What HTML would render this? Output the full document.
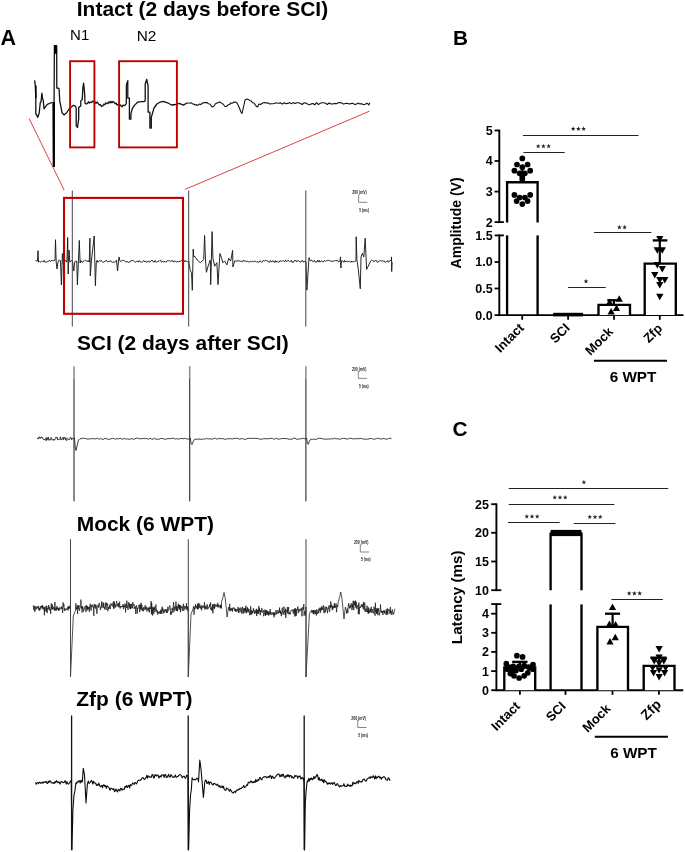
<!DOCTYPE html>
<html><head><meta charset="utf-8"><style>
html,body{margin:0;padding:0;background:#fff;}
svg{display:block;will-change:transform;}
svg text{font-family:"Liberation Sans",sans-serif;}
</style></head><body>
<svg width="685" height="852" viewBox="0 0 685 852">
<text x="76.8" y="15.8" font-size="20.95" font-weight="bold" text-anchor="start" fill="#000" >Intact (2 days before SCI)</text>
<text x="0.6" y="45" font-size="21.5" font-weight="bold" text-anchor="start" fill="#000" >A</text>
<text x="70.1" y="40.4" font-size="15" font-weight="normal" text-anchor="start" fill="#000" >N1</text>
<text x="136.7" y="41" font-size="15.4" font-weight="normal" text-anchor="start" fill="#000" >N2</text>
<text x="76.9" y="349.6" font-size="20.95" font-weight="bold" text-anchor="start" fill="#000" >SCI (2 days after SCI)</text>
<text x="76.7" y="530.7" font-size="20.95" font-weight="bold" text-anchor="start" fill="#000" >Mock (6 WPT)</text>
<text x="76.3" y="705.7" font-size="20.95" font-weight="bold" text-anchor="start" fill="#000" >Zfp (6 WPT)</text>
<path d="M34.6 80.3 L35.3 85.6 L35.8 98 L35.8 113.6 L37.7 117.3 L39.2 113 L40.3 102.5 L41.1 101.4 L41.9 93.2 L42.6 99 L43.2 100 L44 108.8 L45.8 106.2 L47.4 104.3 L51.7 102.5 L53.2 103 L53.7 166.5 L54.4 45.6 L56.7 45.6 L56.8 88 L59 88.3 L59.8 102 L60.4 103.8 L62 112.7 L64 114.9 L66.7 112.7 L69.4 108.5 L73.5 105.3 L75 105.8 L76.2 108 L76.2 125.7 L77.5 127.5 L78.7 118.7 L78.7 107.4 L80.8 106 L80.8 101 L82.2 99.6 L82.9 87.7 L83.6 83.1 L84.7 94 L85 103.2 L86.1 103.9 L87.3 103.6 L88.5 101.8 L89.5 103 L90.6 102.1 L91.6 102.4 L92.5 101.2 L93.5 101.4 L94.2 102.1 L95 102 L96 103.3 L97 102.1 L98 103 L99.2 105 L100.3 104.5 L101.5 106.3 L102.8 105.8 L104 104 L105 104.7 L106 102.9 L107 103.2 L108 103.6 L109 101.8 L110 102.9 L111 101.4 L112 102.8 L113 101.5 L114 102.2 L115 103.7 L116 103.1 L117 104.9 L118 104.5 L119 105.9 L120 104.6 L121 105.8 L122 106.8 L123 105.2 L124 105.5 L125.2 105.2 L126.3 103.5 L126.4 85 L127.8 80.7 L127.8 98 L129.4 98.1 L129.4 119.2 L130.9 119.2 L130.9 113.9 L132.3 108.7 L134.6 105.1 L137.6 102.2 L141.1 101.6 L144 101.6 L145.2 101 L145.2 84 L146.7 79.3 L148.1 86 L148.1 112.2 L149.9 112.2 L149.9 128 L151.3 128 L151.3 117.4 L154 108 L156.9 104 L159.9 102.2 L163.4 101.3 L167.5 102.8 L171.6 105 L175.7 104.5 L179.2 103.4 L183.3 105.1 L187.4 102.8" fill="none" stroke="#111" stroke-width="1.3" stroke-linejoin="round" />
<path d="M187.4 102.8 L188.7 103.2 L190 103 L191.2 102.7 L192.5 103.9 L193.8 104 L195 105 L196.5 104.6 L198 105.5 L199.3 104.1 L200.7 104.6 L202 103.5 L203.2 102.7 L204.5 102.6 L205.8 102.6 L207 102.5 L208.5 103.8 L210 104 L212 107 L214 106 L215.5 103.8 L217 103 L218.5 102.4 L220 102 L221.5 103.1 L223 104 L225 106.5 L226.5 106.4 L228 105 L229.5 104.5 L231 103 L232.5 103.1 L234 102 L235.5 102.1 L237 103 L239 107 L241 112 L242 113.5 L243.5 107 L245 100 L247 99 L248.5 99.6 L250 100.5 L251.3 101.1 L252.7 102.8 L254 103 L256 106 L257.5 107 L259 104 L260.5 104.5 L262 103.5 L263.3 102.8 L264.7 102.6 L266 103 L267.3 102.9 L268.7 103.2 L270 104 L271.3 103.8 L272.7 103.8 L274 103.5 L275.5 102.9 L277 103 L278.8 103.3 L280.6 102.9 L282.4 104.1 L284.2 102.7 L286 103.8 L287.8 103.4 L289.6 102.6 L291.4 103.7 L293.2 102.6 L295 103.5 L296.8 102.7 L298.6 102.7 L300.4 103.5 L302.2 104.5 L304 102.8 L305.8 103 L307.6 104 L309.4 104.8 L311.2 103.9 L313 103.5 L314.8 104.8 L316.6 102.6 L318.4 104.6 L320.2 103.2 L322 102.8 L323.8 102.8 L325.6 103.2 L327.4 104.5 L329.2 102.9 L331 103.9 L332.8 104 L334.6 103.4 L336.4 103.8 L338.2 102.7 L340 102.6 L341.8 103 L343.6 104.1 L345.4 103.5 L347.2 103.3 L349 103.9 L350.8 103.6 L352.6 103.2 L354.4 104.4 L356.2 104.2 L358 103.1 L359.8 103.9 L361.6 103.8 L363.4 104.6 L365.2 104.3 L367 103.2 L368.8 104.9 L369.8 102.8" fill="none" stroke="#111" stroke-width="1.1" stroke-linejoin="round" />
<line x1="53.8" y1="102" x2="53.8" y2="167" stroke="#000" stroke-width="2.3"/>
<rect x="54" y="45.3" width="2.9" height="8.5" fill="#000"/>
<rect x="35" y="85.6" width="1.6" height="12.5" fill="#000"/>
<rect x="70.1" y="61.2" width="24.3" height="86.2" fill="none" stroke="#c00000" stroke-width="1.9"/>
<rect x="119.1" y="61.2" width="57.8" height="86.2" fill="none" stroke="#c00000" stroke-width="1.9"/>
<line x1="29.1" y1="118.5" x2="64.1" y2="190" stroke="#d43030" stroke-width="0.9"/>
<line x1="369.5" y1="111.2" x2="185" y2="189.4" stroke="#d43030" stroke-width="0.9"/>
<path d="M35.5 260.2 L36.3 261.1 L37.1 261 L37.5 261 L38 250.7 L38.5 262 L39.3 261.4 L40.1 262.3 L40.9 261.7 L41.7 261.3 L42.5 261.6 L43.3 261.7 L44.1 260.3 L44.9 262.2 L45.7 261.9 L46.5 262.1 L47.3 262 L48.1 261.1 L48.9 261.1 L49.7 260.4 L50.5 261.6 L51.3 260.3 L52.1 260.3 L52.9 260.7 L53.7 260.6 L54.5 260.9 L55 260 L55.5 239.7 L56.2 262 L57 269 L58 262 L58.8 260.3 L59.6 260.2 L60.4 260.5 L60.5 262 L61.4 285 L62.4 253.6 L63.3 264 L64.1 260.4 L64.9 261 L65.7 260.3 L66.5 262.1 L67 260 L67.7 237.5 L68.2 274 L69 250 L69.8 262 L70.6 261.6 L71.4 260.5 L72.2 260.8 L72.2 261 L72.6 262 L73.8 271 L74.7 262 L75.5 261 L76.3 261 L76.8 262 L77.4 285 L79.3 240.4 L80.1 263 L80.9 260.5 L81.7 262.1 L82.5 262.4 L83.3 261.2 L84.1 261.3 L84.9 260.4 L85.7 260.4 L86.5 261 L87.3 260.8 L88.1 262 L88.9 260.6 L89.3 262 L89.9 238.2 L90.3 276 L91.3 262 L94.2 236 L95.4 285.7 L96.3 262 L97.1 260.3 L97.9 262.3 L98.7 261.4 L99.5 260.5 L100.3 261.4 L101.1 260.3 L101.9 261.4 L102.7 262.4 L103.5 262.1 L104.3 261.7 L105.1 260.8 L105.9 261 L106.7 260.6 L107.5 261.9 L108.3 261.4 L109.1 261.9 L109.9 260.9 L110.7 260.7 L111.5 262 L112.3 262.4 L113.1 262.1 L113.9 262 L114.7 262 L115.5 261.8 L116.3 260.7 L116.5 260 L117.5 271 L119 257 L119.9 261 L120.7 261.3 L121.5 261 L122.3 260.3 L123.1 260.3 L123.9 260.8 L124.7 260.8 L125.5 261.7 L126.3 262.3 L127.1 261.2 L127.9 262.3 L128.7 262.4 L129.5 262.3 L130.3 261 L131.1 260.7 L131.9 260.7 L132.7 260.6 L133.5 260.6 L134.3 261.6 L135.1 262.2 L135.9 262 L136.7 261.3 L137.5 261.6 L138.3 262 L139.1 260.4 L139.9 261.7 L140.7 262.2 L141.5 261.9 L142.3 261.9 L143.1 261.3 L143.9 260.6 L144.7 261.9 L145.5 260.9 L146.3 262 L147.1 262.3 L147.9 261.1 L148.7 261.1 L149.5 262.3 L150.3 261.8 L151.1 260.6 L151.9 260.5 L152.7 260.5 L153.5 262.2 L154.3 262 L155.1 260.5 L155.9 262 L156.7 262.4 L157.5 261.6 L158.3 261 L159.1 261.4 L159.9 260.5 L160.7 260.2 L161.5 262.3 L162.3 261.6 L163.1 261.4 L163.9 262.3 L164.7 261.2 L165.5 262.1 L166.3 262 L167.1 260.7 L167.9 260.8 L168.7 260.8 L169.5 260.7 L170.3 261.5 L171.1 260.8 L171.9 261.1 L172.7 260.5 L173.5 262.2 L174.3 261 L175.1 261.2 L175.9 261.5 L176.7 262.2 L177.5 261.1 L178.3 262.2 L179.1 261.3 L179.9 261.4 L180.7 261.4 L181.5 260.2 L182.3 261.2 L183.1 260.6 L183.9 260.2 L184.7 262 L185.5 260.6 L186.3 261.2 L187.1 261.8 L187.9 261.4 L188.7 261 L190.2 270.5 L191.5 272.7 L192.3 290.3 L193.2 249.1 L193.7 256.5 L195 256.5 L197.2 260 L200.2 262.7 L203.7 259.6 L204.6 235.5 L205.5 260 L206.4 272.3 L208.1 266.2 L210.3 260 L210.7 284.6 L212.1 231.6 L212.9 258 L214.7 266.2 L216.9 262.7 L218 284.6 L219.9 253.5 L221.7 258.3 L222.6 262.7 L224.7 261 L226.9 264.9 L228.7 258.3 L230.7 261 L232.6 250.4 L232.9 267 L234.7 261 L239.2 260.9 L240 260.9 L240.8 261.3 L241.6 261.4 L242.4 261.9 L243.2 260.4 L244 261.4 L244.8 260.7 L245.6 260.8 L246.4 261.9 L247.2 261.3 L248 261.4 L248.8 261.9 L249.6 262.2 L250.4 261.2 L251.2 261.5 L252 261.3 L252.8 261.3 L253.6 261.7 L254.4 261.2 L255.2 261.4 L256 261.3 L256.8 262.3 L257.6 261.7 L258.4 262.1 L259.2 262.3 L260 260.8 L260.8 261.4 L261.6 262.3 L262.4 262 L263.2 260.5 L264 260.5 L264.8 261.2 L265.6 260.4 L266.4 260.7 L267.2 260.4 L268 261.7 L268.8 261.9 L269.6 262.2 L270.4 260.5 L271.2 261.8 L272 261.7 L272.8 260.5 L273.6 262.1 L274.4 262.3 L275.2 260.7 L276 262.3 L276.8 261.1 L277.6 261.3 L278.4 262.4 L279.2 262 L280 260.6 L280.8 261.1 L281.6 261.3 L282.4 260.9 L283.2 260.6 L284 260.9 L284.8 261.8 L285.6 260.2 L286.4 261.4 L287.2 261.2 L288 260.2 L288.8 260.9 L289.6 261.6 L290.4 261.3 L291.2 260.3 L292 262.4 L292.8 261.9 L293.6 262.3 L294.4 260.4 L295.2 260.8 L296 260.3 L296.8 261.9 L297.6 260.8 L298.4 260.5 L299.2 261.1 L300 262.2 L300.8 262 L301.6 260.8 L302.4 260.5 L303.2 262.2 L304 261.5 L304.8 261.7 L305.5 261 L306 262 L306.9 290.2 L309 257.6 L310.4 261 L311.2 260.4 L312 260.3 L312.8 261.7 L313.6 261.1 L314.4 260.4 L315.2 262.3 L316 261.6 L316.8 262 L317.6 260.4 L318.4 262.1 L319.2 260.3 L320 262.1 L320.8 261.2 L321.6 260.9 L322.4 261.4 L323.2 262.2 L324 260.8 L324.8 260.5 L325.6 261.4 L326.4 260.7 L327.2 260.4 L328 260.6 L328.8 260.3 L329.6 260.6 L330.4 260.9 L331.2 260.9 L332 261.9 L332.8 260.8 L333.6 261.3 L334.4 260.6 L335.2 261 L336 260.2 L336.8 260.8 L337.6 260.2 L338.4 261.8 L339.2 261.4 L340 261 L340.5 256.9 L340.9 268 L341.4 261 L342.2 260.6 L343 261.2 L343.8 262.3 L344.6 260.4 L345.4 262 L346.2 261.2 L347 261.3 L347.8 262 L348.6 261.1 L349.4 261.3 L350.2 261.7 L351 262.4 L351.8 261 L352.6 262 L353.4 261.8 L354.2 261.6 L355 261.1 L355.8 261 L356 261 L356.2 236.8 L356.9 259.7 L358.3 269.4 L360.3 288.8 L361 256.9 L362.4 253.4 L363.8 256.9 L365.2 238.2 L366.6 269.4 L368 266.6 L370.7 261 L371.5 260.3 L372.3 260.5 L373.1 260.4 L373.9 261.8 L374.7 260.8 L375.5 260.6 L376.3 260.4 L377.1 262.1 L377.9 262.1 L378.7 261.7 L379.5 260.8 L380.3 260.7 L381.1 260.8 L381.9 261.2 L382.7 260.5 L383.5 261.2 L384.3 260.8 L385.1 262.3 L385.9 262.3 L386.7 261.4 L387.5 260.7 L388.3 262.3 L389.1 260.9 L389.9 261 L390.7 260.2 L391.3 261 L391.5 256.9 L391.7 271.5 L392.1 262" fill="none" stroke="#1a1a1a" stroke-width="0.95" stroke-linejoin="round" />
<line x1="72.3" y1="190.5" x2="72.3" y2="326.5" stroke="#454545" stroke-width="1.0"/>
<line x1="188.7" y1="190.5" x2="188.7" y2="326.5" stroke="#454545" stroke-width="1.0"/>
<line x1="305.8" y1="190.5" x2="305.8" y2="326.5" stroke="#454545" stroke-width="1.0"/>
<rect x="64" y="197.9" width="119" height="115.9" fill="none" stroke="#c00000" stroke-width="2.1"/>
<text x="352.2" y="194.4" font-size="4.8" font-weight="bold" fill="#222" textLength="14.6" lengthAdjust="spacingAndGlyphs">200 (mV)</text>
<line x1="358.6" y1="194.7" x2="358.6" y2="202.3" stroke="#606878" stroke-width="0.8"/>
<line x1="358.6" y1="202.3" x2="367.4" y2="202.3" stroke="#606878" stroke-width="0.8"/>
<text x="359.2" y="211.5" font-size="4.8" font-weight="bold" fill="#222" textLength="9.8" lengthAdjust="spacingAndGlyphs">5 (ms)</text>
<path d="M37 438.3 L37.5 438.7 L37.9 438.8 L38.4 437.6 L38.8 438.8 L39.3 436.8 L39.7 437.9 L40.2 437.2 L40.6 438.4 L41.1 437 L41.5 436.9 L42 438 L42.4 437.7 L42.9 439.1 L43.3 438.9 L43.8 439.8 L44.2 439.4 L44.7 439.7 L45.1 440.3 L45.6 438.4 L46 438.1 L46.5 440.7 L46.9 437.4 L47.4 439.7 L47.8 439.4 L48.3 437 L48.7 440.1 L49.2 440.4 L49.6 439.3 L50.1 439.7 L50.5 440 L51 437.4 L51.4 438.9 L51.9 438.8 L52.3 440.1 L52.8 440 L53.2 440.1 L53.7 439.1 L54.1 440.4 L54.6 439.5 L55 439.6 L55.5 437.7 L55.9 436.9 L56.4 437.3 L56.8 438.2 L57.3 437.2 L57.7 440.1 L58.2 439 L58.6 439.3 L59.1 439.3 L59.5 439.5 L60 438.8 L60.4 436.8 L60.9 440 L61.3 439.8 L61.8 438.8 L62.2 438.9 L62.7 439.4 L63.1 437.1 L63.6 439.7 L64 437.8 L64.5 437.1 L64.9 437.9 L65.4 439.7 L65.8 437.6 L66.3 439.8 L66.7 440.7 L67.2 438.8 L67.6 438.3 L68.1 438.7 L68.5 439.5 L69 439.9 L69.4 439.3 L69.9 439.4 L70.3 437.1 L70.8 437.4 L71.2 437.8 L71.7 439.8 L72.1 438 L73.5 438.8 L74.5 438 L75.2 447 L76 450.6 L77 446 L78.5 440 L80 438.5 L81 438.9 L82.5 438.2 L84 438.3 L85.5 438.5 L87 439 L88.5 439 L90 439 L91.5 438.5 L93 438.8 L94.5 438.8 L96 438.8 L97.5 438.3 L99 439.3 L100.5 438.4 L102 439.4 L103.5 439.3 L105 438.2 L106.5 438.8 L108 439.2 L109.5 439.4 L111 438.7 L112.5 438.5 L114 438.5 L115.5 439.3 L117 438.5 L118.5 438.9 L120 438.4 L121.5 438.8 L123 439.3 L124.5 438.4 L126 439.2 L127.5 438.8 L129 439.3 L130.5 439 L132 438.5 L133.5 439.3 L135 438.8 L136.5 438.2 L138 438.2 L139.5 438.8 L141 438.7 L142.5 438.6 L144 438.4 L145.5 438.6 L147 438.6 L148.5 439.2 L150 438.2 L151.5 439.1 L153 439.2 L154.5 438.3 L156 439.3 L157.5 439.1 L159 439.3 L160.5 438.5 L162 438.6 L163.5 438.7 L165 439.4 L166.5 438.9 L168 438.6 L169.5 438.7 L171 438.5 L172.5 438.3 L174 438.3 L175.5 439.2 L177 438.5 L178.5 439.3 L180 438.5 L181.5 438.5 L183 438.8 L184.5 438.4 L186 438.6 L187.5 439.3 L189.3 438.8 L190.3 438 L191 443 L192 444.5 L193.5 441 L195 439 L196 439.3 L197.5 439.2 L199 439 L200.5 439.3 L202 439.3 L203.5 438.9 L205 439.1 L206.5 438.3 L208 439.1 L209.5 438.7 L211 439.1 L212.5 439 L214 438.5 L215.5 438.3 L217 439.3 L218.5 438.4 L220 438.8 L221.5 438.6 L223 438.6 L224.5 439.1 L226 439.4 L227.5 438.5 L229 439 L230.5 438.6 L232 438.9 L233.5 438.7 L235 438.4 L236.5 438.4 L238 438.4 L239.5 439.3 L241 438.8 L242.5 438.5 L244 439.3 L245.5 439.4 L247 438.7 L248.5 438.4 L250 438.4 L251.5 438.3 L253 438.6 L254.5 438.3 L256 438.5 L257.5 438.5 L259 438.9 L260.5 439.3 L262 439.1 L263.5 438.7 L265 438.7 L266.5 438.8 L268 438.7 L269.5 438.6 L271 438.3 L272.5 438.5 L274 439.4 L275.5 438.4 L277 438.8 L278.5 439 L280 439.2 L281.5 438.5 L283 438.5 L284.5 438.5 L286 438.7 L287.5 438.7 L289 439.3 L290.5 439.2 L292 439.2 L293.5 438.2 L295 438.2 L296.5 439.1 L298 439.3 L299.5 438.8 L301 438.9 L302.5 438.2 L304 438.7 L305.6 438.8 L306.6 438 L307.3 443 L308.2 444.3 L309.5 441 L311 439 L312 439.3 L313.5 439.2 L315 439.2 L316.5 439.4 L318 438.5 L319.5 438.3 L321 438.4 L322.5 438.8 L324 439 L325.5 439.3 L327 439.1 L328.5 439 L330 439.1 L331.5 438.7 L333 438.9 L334.5 438.2 L336 439.1 L337.5 438.5 L339 439.3 L340.5 439 L342 438.6 L343.5 438.4 L345 438.5 L346.5 439 L348 439 L349.5 438.3 L351 438.3 L352.5 438.8 L354 438.9 L355.5 438.7 L357 438.5 L358.5 438.9 L360 438.2 L361.5 438.6 L363 438.8 L364.5 439.4 L366 439 L367.5 439.3 L369 438.8 L370.5 438.5 L372 438.5 L373.5 439.4 L375 439 L376.5 438.6 L378 438.2 L379.5 438.8 L381 439 L382.5 438.7 L384 438.5 L385.5 439 L387 439.3 L388.5 438.5 L390 438.2 L391.5 438.6" fill="none" stroke="#2a2a2a" stroke-width="0.9" stroke-linejoin="round" />
<line x1="74" y1="366.3" x2="74" y2="379" stroke="#8a8a8a" stroke-width="1.5"/>
<line x1="74" y1="379" x2="74" y2="501.3" stroke="#2a2a2a" stroke-width="1.1"/>
<line x1="189.7" y1="366.3" x2="189.7" y2="379" stroke="#8a8a8a" stroke-width="1.5"/>
<line x1="189.7" y1="379" x2="189.7" y2="501.3" stroke="#2a2a2a" stroke-width="1.1"/>
<line x1="305.9" y1="366.3" x2="305.9" y2="379" stroke="#8a8a8a" stroke-width="1.5"/>
<line x1="305.9" y1="379" x2="305.9" y2="501.3" stroke="#2a2a2a" stroke-width="1.1"/>
<text x="351.9" y="370.5" font-size="4.8" font-weight="bold" fill="#222" textLength="14.6" lengthAdjust="spacingAndGlyphs">200 (mV)</text>
<line x1="358.3" y1="370.8" x2="358.3" y2="378.4" stroke="#606878" stroke-width="0.8"/>
<line x1="358.3" y1="378.4" x2="367.1" y2="378.4" stroke="#606878" stroke-width="0.8"/>
<text x="358.9" y="387.6" font-size="4.8" font-weight="bold" fill="#222" textLength="9.8" lengthAdjust="spacingAndGlyphs">5 (ms)</text>
<path d="M33.3 605.4 L33.6 609.9 L33.9 608.1 L34.2 605.7 L34.5 606.7 L34.8 612 L35.1 608.4 L35.4 606.4 L35.7 608.9 L36 609.7 L36.3 609.4 L36.6 607.8 L36.9 606.4 L37.2 608 L37.5 607.8 L37.8 606.4 L38.1 608.9 L38.4 609.4 L38.7 606.3 L39 608.6 L39.3 610.6 L39.6 608 L39.9 610.2 L40.2 609.3 L40.5 608.3 L40.8 606 L41.1 608.5 L41.4 607.3 L41.7 605.8 L42 607.5 L42.3 605.1 L42.6 608.6 L42.9 606.4 L43.2 609.3 L43.5 609.5 L43.8 608.7 L44.1 606.8 L44.4 615.3 L44.7 607.1 L45 611.5 L45.3 608.8 L45.6 607.8 L45.9 607.5 L46.2 605.7 L46.5 611.5 L46.8 606 L47.1 613.1 L47.4 608.3 L47.7 609 L48 609.3 L48.3 608.7 L48.6 605.1 L48.9 609.2 L49.2 609.9 L49.5 606.8 L49.8 607.6 L50.1 610.8 L50.4 609.3 L50.7 613.9 L51 607.6 L51.3 603.5 L51.6 609.1 L51.9 608.6 L52.2 604.3 L52.5 607.7 L52.8 609.7 L53.1 606.7 L53.4 608.5 L53.7 609.2 L54 607.2 L54.3 608.1 L54.6 610.7 L54.9 602 L55.2 608.1 L55.5 609.8 L55.8 608.5 L56.1 610.9 L56.4 607.5 L56.7 609.6 L57 606.2 L57.3 609 L57.6 607.7 L57.9 608.4 L58.2 610.1 L58.5 607.9 L58.8 611 L59.1 610 L59.4 608.1 L59.7 607.4 L60 609.4 L60.3 608.9 L60.6 608.4 L60.9 607.4 L61.2 607.3 L61.5 606.5 L61.8 609 L62.1 606.9 L62.4 610.6 L62.7 612.9 L63 602.4 L63.3 603.9 L63.6 606.5 L63.9 604.2 L64.2 610.5 L64.5 610.8 L64.8 608.3 L65.1 610.6 L65.4 609.6 L65.7 609.1 L66 609.4 L66.3 610 L66.6 609.6 L66.9 608.4 L67.2 609.1 L67.5 607.3 L67.8 608.1 L68.1 610.5 L68.4 606.3 L68.7 608.3 L69 606.5 L69.3 608.7 L69.6 606.8 L69.9 605.8 L70.2 607.8 L70.5 602.5 L70.5 607 L70.5 677 L73.3 616 L75.5 610.4 L75.8 603.4 L76.1 606.1 L76.4 609.5 L76.7 606.9 L77 606.4 L77.3 606.2 L77.6 613.9 L77.9 605 L78.2 608.9 L78.5 608.7 L78.8 605.8 L79.1 605.2 L79.4 610.8 L79.7 609 L80 608.1 L80.3 607.7 L80.6 606.9 L80.9 599.6 L81.2 604.6 L81.5 608.3 L81.8 606.4 L82.1 612.5 L82.4 606.4 L82.7 608.5 L83 607.4 L83.3 610.2 L83.6 611.6 L83.9 609.3 L84.2 609.7 L84.5 607.4 L84.8 606.4 L85.1 606.5 L85.4 606.3 L85.7 608 L86 611.8 L86.3 605 L86.6 608.3 L86.9 607.5 L87.2 610.3 L87.5 606 L87.8 609.1 L88.1 607.1 L88.4 608.3 L88.7 609.3 L89 607 L89.3 611.8 L89.6 606.5 L89.9 607 L90.2 603.8 L90.5 605.8 L90.8 609 L91.1 610.6 L91.4 607 L91.7 605.1 L92 606.9 L92.3 604.6 L92.6 605.4 L92.9 606.5 L93.2 607.5 L93.5 606.8 L93.8 615.8 L94.1 604.6 L94.4 605.8 L94.7 607.3 L95 604 L95.3 607.9 L95.6 608.6 L95.9 605.1 L96.2 605.5 L96.5 608 L96.8 613.8 L97.1 611.4 L97.4 607.3 L97.7 607 L98 604.7 L98.3 607.1 L98.6 607.7 L98.9 605.6 L99.2 603 L99.5 604.8 L99.8 606.2 L100.1 606.7 L100.4 610.1 L100.7 607.2 L101 606.6 L101.3 606.6 L101.6 601.5 L101.9 608.2 L102.2 605.3 L102.5 604.3 L102.8 604.1 L103.1 602.4 L103.4 607.3 L103.7 603.2 L104 607.8 L104.3 607.1 L104.6 609.3 L104.9 606.6 L105.2 606.6 L105.5 602.6 L105.8 607.2 L106.1 610 L106.4 606.3 L106.7 602.8 L107 605.3 L107.3 605.4 L107.6 603.8 L107.9 611.1 L108.2 606.9 L108.5 608.9 L108.8 607.6 L109.1 608.3 L109.4 608.5 L109.7 604.7 L110 607 L110.3 609 L110.6 606.6 L110.9 603.4 L111.2 603.9 L111.5 605.4 L111.8 604.7 L112.1 604.5 L112.4 605.3 L112.7 606.5 L113 602.5 L113.3 603.2 L113.6 608.9 L113.9 601 L114.2 605.1 L114.5 602.5 L114.8 608.2 L115.1 604.5 L115.4 606.2 L115.7 607.1 L116 606.6 L116.3 603.3 L116.6 600.9 L116.9 602.7 L117.2 605.8 L117.5 605 L117.8 604.3 L118.1 606.8 L118.4 603.2 L118.7 605 L119 607.3 L119.3 604.9 L119.6 601.8 L119.9 607.4 L120.2 608.5 L120.5 606.2 L120.8 607.2 L121.1 606.9 L121.4 607 L121.7 606 L122 607.1 L122.3 606.1 L122.6 606.5 L122.9 604.2 L123.2 605.4 L123.5 609.1 L123.8 605.1 L124.1 607.4 L124.4 607 L124.7 605.6 L125 603.5 L125.3 607.1 L125.6 612.4 L125.9 604.6 L126.2 606.7 L126.5 607.8 L126.8 600.7 L127.1 603.6 L127.4 607.5 L127.7 606.8 L128 609.9 L128.3 605.1 L128.6 602.4 L128.9 604.7 L129.2 607.1 L129.5 603.3 L129.8 608.5 L130.1 606.7 L130.4 609.1 L130.7 604 L131 608.7 L131.3 604.8 L131.6 603.8 L131.9 607.6 L132.2 607 L132.5 608.2 L132.8 602.1 L133.1 604.8 L133.4 606 L133.7 604.7 L134 604.2 L134.3 608.9 L134.6 607 L134.9 607.6 L135.2 606.5 L135.5 609.3 L135.8 614 L136.1 605.5 L136.4 605.4 L136.7 607.1 L137 610 L137.3 613.5 L137.6 607.8 L137.9 608.8 L138.2 607.7 L138.5 605.9 L138.8 605.5 L139.1 606.2 L139.4 604.7 L139.7 612.1 L140 608.3 L140.3 604.7 L140.6 609.2 L140.9 606.1 L141.2 602.8 L141.5 609.9 L141.8 604.9 L142.1 607.6 L142.4 611 L142.7 609.8 L143 608 L143.3 611.3 L143.6 610.3 L143.9 606.9 L144.2 608.6 L144.5 609.2 L144.8 609.8 L145.1 605.3 L145.4 607.1 L145.7 609.5 L146 607.7 L146.3 606.6 L146.6 607.1 L146.9 611.6 L147.2 607.7 L147.5 607.9 L147.8 609.5 L148.1 608.9 L148.4 608.5 L148.7 610.7 L149 607.4 L149.3 612.4 L149.6 607.7 L149.9 606.8 L150.2 607.6 L150.5 608.9 L150.8 607.4 L151.1 601.1 L151.4 614.3 L151.7 603 L152 612.4 L152.3 607 L152.6 615.5 L152.9 610.5 L153.2 609.8 L153.5 607.8 L153.8 613.9 L154.1 606.5 L154.4 609.7 L154.7 607.8 L155 611.7 L155.3 611.4 L155.6 608.5 L155.9 604.5 L156.2 610.3 L156.5 609.6 L156.8 612.3 L157.1 612.4 L157.4 610.6 L157.7 614.6 L158 611.9 L158.3 613.2 L158.6 611.8 L158.9 612.8 L159.2 613.5 L159.5 611.5 L159.8 611.3 L160.1 612.5 L160.4 613.8 L160.7 609.8 L161 613.9 L161.3 610.8 L161.6 612.7 L161.9 607.9 L162.2 606.7 L162.5 611 L162.8 608.4 L163.1 613.7 L163.4 612 L163.7 609.9 L164 609.4 L164.3 612.6 L164.6 611.7 L164.9 610.1 L165.2 610.5 L165.5 611.3 L165.8 609.1 L166.1 609.8 L166.4 613 L166.7 612.1 L167 609.2 L167.3 612.4 L167.6 613 L167.9 606.8 L168.2 610.1 L168.5 610.5 L168.8 610.1 L169.1 608.7 L169.4 607.1 L169.7 605.4 L170 606.5 L170.3 607.6 L170.6 614.6 L170.9 612.6 L171.2 614.6 L171.5 611.7 L171.8 613 L172.1 607.9 L172.4 610 L172.7 608.9 L173 612.5 L173.3 605.8 L173.6 602.2 L173.9 608.5 L174.2 611.5 L174.5 608.1 L174.8 606.5 L175.1 609.2 L175.4 609.3 L175.7 605.7 L176 601.7 L176.3 611 L176.6 606.9 L176.9 610.1 L177.2 605.8 L177.5 611.3 L177.8 610.3 L178.1 608.8 L178.4 603.7 L178.7 607.7 L179 606.5 L179.3 608.7 L179.6 604.8 L179.9 609.9 L180.2 605 L180.5 612.2 L180.8 605.8 L181.1 607.3 L181.4 607.8 L181.7 607.9 L182 606.5 L182.3 611 L182.6 608.4 L182.9 605.9 L183.2 605.6 L183.5 603.8 L183.8 610.7 L184.1 605.8 L184.4 607.3 L184.7 608.2 L185 609.4 L185.3 607.5 L185.6 607.6 L185.9 606.1 L186.2 608.3 L186.5 603.2 L186.8 609.7 L187.1 606.5 L187.4 607 L187.7 608.2 L188 611.1 L188.3 607 L188.3 677 L191 614 L193.1 609 L193.4 607 L193.7 606.1 L194 614.7 L194.3 612.4 L194.6 607.3 L194.9 609 L195.2 607.7 L195.5 604.2 L195.8 607.8 L196.1 608.1 L196.4 605.8 L196.7 606.5 L197 606.3 L197.3 609.3 L197.6 604 L197.9 609.1 L198.2 602.9 L198.5 608.6 L198.8 608 L199.1 606.8 L199.4 607.5 L199.7 603.7 L200 607.1 L200.3 607.7 L200.6 606.7 L200.9 608.8 L201.2 605.5 L201.5 610.4 L201.8 609.1 L202.1 605.7 L202.4 607.2 L202.7 607.7 L203 607.7 L203.3 605.5 L203.6 605.8 L203.9 607.2 L204.2 608.2 L204.5 602.1 L204.8 609.6 L205.1 609.4 L205.4 606.7 L205.7 608.4 L206 605.7 L206.3 607.4 L206.6 608.7 L206.9 609.2 L207.2 604.3 L207.5 606.5 L207.8 609.3 L208.1 608.6 L208.4 607.4 L208.7 607.6 L209 606.8 L209.3 607.3 L209.6 604.6 L209.9 606.4 L210.2 605.3 L210.5 602.4 L210.8 609.5 L211.1 607.7 L211.4 610 L211.7 607.5 L212 610.7 L212.3 604.2 L212.6 606.1 L212.9 613.3 L213.2 607.3 L213.5 604.4 L213.8 607.8 L214.1 606.8 L214.4 609.1 L214.7 603.8 L215 607.3 L215.3 604.7 L215.6 605.2 L215.9 605.8 L216.2 605.7 L216.5 606.5 L216.8 604.5 L217.1 604.8 L217.4 607.1 L217.7 602.8 L218 603.5 L218.3 606.1 L218.6 605 L218.9 607.7 L219.2 606.1 L219.5 605.9 L219.8 605.4 L220.1 606.7 L220.4 605.7 L220.7 608.3 L221 604.5 L221.3 608.4 L221.5 602 L223 597 L224 592.5 L225.2 598 L227.1 617 L228.5 607 L228.8 608.2 L229.1 610.2 L229.4 610 L229.7 603.9 L230 611.1 L230.3 609.5 L230.6 608.7 L230.9 611 L231.2 607.9 L231.5 608.6 L231.8 610 L232.1 609 L232.4 611.8 L232.7 607.7 L233 609.4 L233.3 608.6 L233.6 608.3 L233.9 607.5 L234.2 607.9 L234.5 608 L234.8 610.9 L235.1 608.7 L235.4 611.4 L235.7 611.3 L236 609 L236.3 611.8 L236.6 610.2 L236.9 610.2 L237.2 609.1 L237.5 611.1 L237.8 611.1 L238.1 607 L238.4 610.7 L238.7 612.9 L239 607.8 L239.3 608.1 L239.6 610.2 L239.9 612.4 L240.2 611.9 L240.5 610 L240.8 607.5 L241.1 609 L241.4 608.9 L241.7 613.6 L242 611.7 L242.3 608.4 L242.6 606.8 L242.9 611.5 L243.2 613.7 L243.5 609.3 L243.8 608.3 L244.1 612.9 L244.4 611.5 L244.7 608 L245 610.6 L245.3 607.9 L245.6 611.5 L245.9 605.7 L246.2 613.3 L246.5 609.9 L246.8 612.7 L247.1 608.5 L247.4 607.3 L247.7 611.6 L248 608.7 L248.3 610.1 L248.6 612.3 L248.9 608.8 L249.2 610.5 L249.5 612.1 L249.8 615.2 L250.1 613.6 L250.4 614 L250.7 606.3 L251 614.9 L251.3 611 L251.6 610 L251.9 614 L252.2 610.9 L252.5 613 L252.8 612.1 L253.1 611.4 L253.4 608.2 L253.7 611.4 L254 612.3 L254.3 613.6 L254.6 613.8 L254.9 609.8 L255.2 613.3 L255.5 612.7 L255.8 611.1 L256.1 612.9 L256.4 608.8 L256.7 616 L257 609.9 L257.3 609.8 L257.6 613.5 L257.9 610.4 L258.2 614.1 L258.5 613.6 L258.8 606.1 L259.1 611.6 L259.4 608.1 L259.7 612.2 L260 611.7 L260.3 615.2 L260.6 610 L260.9 611.1 L261.2 612.2 L261.5 611.1 L261.8 608.1 L262.1 611.6 L262.4 612.6 L262.7 612.4 L263 611.9 L263.3 610.3 L263.6 616.2 L263.9 615.2 L264.2 614.9 L264.5 613.1 L264.8 609.6 L265.1 610.1 L265.4 615.8 L265.7 610.2 L266 615.1 L266.3 612 L266.6 610 L266.9 614.9 L267.2 614.5 L267.5 611 L267.8 613.7 L268.1 614.6 L268.4 612.1 L268.7 615.6 L269 611.2 L269.3 614.4 L269.6 613.9 L269.9 611.2 L270.2 609 L270.5 614.5 L270.8 612.7 L271.1 612 L271.4 614.5 L271.7 614.5 L272 613.9 L272.3 614.5 L272.6 614.2 L272.9 612.3 L273.2 613 L273.5 615 L273.8 612.3 L274.1 617.3 L274.4 612.6 L274.7 615.5 L275 614.4 L275.3 614.3 L275.6 612.7 L275.9 610.3 L276.2 611.6 L276.5 614.4 L276.8 613.5 L277.1 610.7 L277.4 610.3 L277.7 611.4 L278 613.9 L278.3 612.9 L278.6 611.8 L278.9 610.4 L279.2 612.8 L279.5 607.6 L279.8 611.9 L280.1 612.5 L280.4 610.6 L280.7 613.8 L281 611.9 L281.3 616.1 L281.6 612.3 L281.9 612.8 L282.2 607.7 L282.5 611.1 L282.8 613.7 L283.1 614.7 L283.4 614.3 L283.7 610.6 L284 606.6 L284.3 610.9 L284.6 612.5 L284.9 611.1 L285.2 615.1 L285.5 608.8 L285.8 617.9 L286.1 610.9 L286.4 611.4 L286.7 610.4 L287 611.2 L287.3 607.1 L287.6 613.4 L287.9 610.4 L288.2 610.9 L288.5 607 L288.8 614.3 L289.1 612.2 L289.4 612.1 L289.7 613.6 L290 613 L290.3 614.3 L290.6 612.2 L290.9 610.6 L291.2 610.1 L291.5 609.9 L291.8 610.3 L292.1 611.2 L292.4 610.4 L292.7 609.6 L293 610.9 L293.3 613.8 L293.6 613.7 L293.9 609.4 L294.2 611.8 L294.5 608.6 L294.8 616.5 L295.1 610.7 L295.4 608.4 L295.7 615.7 L296 608.8 L296.3 615.6 L296.6 610.3 L296.9 609.4 L297.2 609.3 L297.5 609.8 L297.8 606.5 L298.1 612.7 L298.4 613.1 L298.7 608.9 L299 610.4 L299.3 610.5 L299.6 609.6 L299.9 611.4 L300.2 611.2 L300.5 609.4 L300.8 609.8 L301.1 607.9 L301.4 609 L301.7 611.7 L302 616.3 L302.3 608.4 L302.6 607.2 L302.9 609.8 L303.2 608.9 L303.5 609.2 L303.8 604.2 L304.1 615.7 L304.4 612.9 L304.7 611.6 L305 612.8 L305.3 610.9 L305.6 615.5 L305.9 610.5 L306 607 L306 677 L309.4 613.8 L311.6 610 L311.9 612.9 L312.2 613.1 L312.5 610.6 L312.8 611.8 L313.1 610.3 L313.4 613.8 L313.7 610.1 L314 614.3 L314.3 612.1 L314.6 610.4 L314.9 610.4 L315.2 613.2 L315.5 613.9 L315.8 610 L316.1 612.6 L316.4 615.5 L316.7 609.4 L317 610.4 L317.3 611.8 L317.6 614 L317.9 613 L318.2 611.2 L318.5 613 L318.8 608.6 L319.1 610.8 L319.4 609.6 L319.7 609.9 L320 607.6 L320.3 612.9 L320.6 608.1 L320.9 608.1 L321.2 610.5 L321.5 606.6 L321.8 606.4 L322.1 609.2 L322.4 607.7 L322.7 609.1 L323 610.2 L323.3 605.3 L323.6 610.2 L323.9 612.9 L324.2 613.2 L324.5 609.8 L324.8 610.4 L325.1 606.5 L325.4 612.3 L325.7 610.8 L326 609.1 L326.3 606.9 L326.6 608.5 L326.9 607.5 L327.2 610.2 L327.5 613.2 L327.8 609.4 L328.1 608.1 L328.4 607.8 L328.7 608.8 L329 605.5 L329.3 610.9 L329.6 611.9 L329.9 609.2 L330.2 605.1 L330.5 607.6 L330.8 601.5 L331.1 606.7 L331.4 607.3 L331.7 604.8 L332 604.8 L332.3 610.2 L332.6 606.1 L332.9 609.3 L333.2 605.9 L333.5 606.1 L333.8 607.5 L334.1 607.8 L334.4 603 L334.7 607.9 L335 605.3 L335.3 606.2 L335.6 607.6 L335.9 603.6 L336.2 603.4 L336.5 612.2 L336.8 608.6 L337.1 605 L337.4 605.4 L337.7 606.8 L338 605.4 L338.2 602 L339.7 597 L340.7 592 L341.9 598 L344 619 L345.4 607 L345.7 608.9 L346 609.6 L346.3 610.1 L346.6 613.5 L346.9 611.3 L347.2 608.6 L347.5 609 L347.8 613.1 L348.1 607.5 L348.4 605.1 L348.7 603.3 L349 607.6 L349.3 608.4 L349.6 608.5 L349.9 605.2 L350.2 608.1 L350.5 605.6 L350.8 605.8 L351.1 603.3 L351.4 604.5 L351.7 607.6 L352 610.2 L352.3 604.1 L352.6 607.6 L352.9 604.8 L353.2 600.8 L353.5 607.9 L353.8 610 L354.1 600.9 L354.4 604.8 L354.7 602.5 L355 603.4 L355.3 605.5 L355.6 600.6 L355.9 607.9 L356.2 602.1 L356.5 607.4 L356.8 608.9 L357.1 607.8 L357.4 605.8 L357.7 605.2 L358 604.8 L358.3 614 L358.6 607.5 L358.9 602.6 L359.2 614.4 L359.5 607.7 L359.8 606.9 L360.1 606.6 L360.4 608 L360.7 607.3 L361 606.3 L361.3 604.5 L361.6 606.7 L361.9 605.9 L362.2 606.4 L362.5 606.8 L362.8 604.1 L363.1 608.7 L363.4 601.9 L363.7 602.8 L364 610.1 L364.3 610.3 L364.6 602.6 L364.9 603.3 L365.2 612 L365.5 610.4 L365.8 610.5 L366.1 608.5 L366.4 611.7 L366.7 611.8 L367 605.7 L367.3 606.9 L367.6 611.8 L367.9 610.2 L368.2 613.9 L368.5 607.5 L368.8 613.1 L369.1 609.7 L369.4 612 L369.7 612.5 L370 608.6 L370.3 609.6 L370.6 612.2 L370.9 610.1 L371.2 606.8 L371.5 610.7 L371.8 612.9 L372.1 611.4 L372.4 609 L372.7 610 L373 612.4 L373.3 612.3 L373.6 613.5 L373.9 606.7 L374.2 608.6 L374.5 608.4 L374.8 613.9 L375.1 615.7 L375.4 602.7 L375.7 612 L376 610.4 L376.3 608.8 L376.6 614 L376.9 608.3 L377.2 612.7 L377.5 608.7 L377.8 615.1 L378.1 610.8 L378.4 610.8 L378.7 608.1 L379 612.2 L379.3 615.4 L379.6 614.6 L379.9 612.7 L380.2 611.2 L380.5 604.5 L380.8 609.2 L381.1 612 L381.4 610.9 L381.7 612.7 L382 610.9 L382.3 612.9 L382.6 611.4 L382.9 614.9 L383.2 612.4 L383.5 610.9 L383.8 611.8 L384.1 610.1 L384.4 613.2 L384.7 611 L385 613.5 L385.3 613.4 L385.6 614.3 L385.9 613.8 L386.2 609.4 L386.5 614.7 L386.8 611.1 L387.1 612.8 L387.4 608.4 L387.7 614.7 L388 612.1 L388.3 610.4 L388.6 609.2 L388.9 609.1 L389.2 610.2 L389.5 609.8 L389.8 613.7 L390.1 612.5 L390.4 607.1 L390.7 613.1 L391 611.1 L391.3 614.9 L391.6 613.1 L391.9 611.6 L392.2 609.7 L392.5 609.7 L392.8 613.8 L393.1 614.8 L393.4 612.9 L393.7 612.5 L394 613.3 L394.3 610.8 L394.6 610.3 L394.9 608.7" fill="none" stroke="#1a1a1a" stroke-width="0.75" stroke-linejoin="round" />
<line x1="70.5" y1="539.3" x2="70.5" y2="677" stroke="#444" stroke-width="1.0"/>
<line x1="188.3" y1="539.3" x2="188.3" y2="677" stroke="#444" stroke-width="1.0"/>
<line x1="306" y1="539.3" x2="306" y2="677" stroke="#444" stroke-width="1.0"/>
<text x="353.9" y="544.1" font-size="4.8" font-weight="bold" fill="#222" textLength="14.6" lengthAdjust="spacingAndGlyphs">200 (mV)</text>
<line x1="360.3" y1="544.4" x2="360.3" y2="552" stroke="#606878" stroke-width="0.8"/>
<line x1="360.3" y1="552" x2="369.1" y2="552" stroke="#606878" stroke-width="0.8"/>
<text x="360.9" y="561.2" font-size="4.8" font-weight="bold" fill="#222" textLength="9.8" lengthAdjust="spacingAndGlyphs">5 (ms)</text>
<path d="M35.5 782.5 L36.2 784.3 L37 782.7 L37.8 782.6 L38.5 783.7 L39.2 782.4 L40 782.3 L40.8 783.4 L41.5 782.9 L42.2 782 L43 783.3 L43.8 781.9 L44.5 781.9 L45.2 782.5 L46 781.2 L46.8 783.1 L47.5 783.5 L48.2 781.3 L49 782.6 L49.8 780.6 L50.5 781.1 L51.2 782.5 L52 783.1 L52.8 783 L53.5 782.6 L54.2 783.6 L55 781.6 L55.8 782.7 L56.5 780.6 L57.2 781.6 L58 782.8 L58.8 781.8 L59.5 782.7 L60.2 784.1 L61 781.6 L61.8 781.6 L62.5 782.3 L63.2 782.6 L64 782.5 L64.8 780.9 L65.5 781.1 L66.2 784.2 L67 781.7 L67.8 783.6 L68.5 784.1 L69.2 783.3 L70 782 L70.8 780.7 L71.3 783 L71.9 850 L72.9 810 L74 795 L75 790.4 L75.8 783 L76.5 783.7 L77.2 781.6 L78 782.2 L78.8 780.8 L79.5 780.7 L80.2 783 L81 780.2 L81.8 782 L82.3 782 L83.3 768.3 L84.5 775 L86 803 L87.3 785 L88.3 781 L89 783.2 L89.8 782.9 L90.5 782.2 L91.3 780.4 L92 781.2 L92.8 784 L93.5 781.3 L94.3 782.9 L95 782.9 L95.8 783.3 L96.5 785.5 L97.3 784.6 L98 785.5 L98.8 783.1 L99.5 785.1 L100.3 786.8 L101 786.1 L101.8 785.4 L102.5 787.8 L103.3 785 L104 784.8 L104.8 786.4 L105.5 785.6 L106.3 788.3 L107 785.7 L107.8 786.8 L108.5 787 L109.3 788.5 L110 790.3 L110.8 788.1 L111.5 788.6 L112.3 789 L113 789.6 L113.8 788.5 L114.5 791.6 L115.3 790.8 L116 789 L116.8 790.9 L117.5 791.9 L118.3 789.3 L119 789.9 L119.8 791 L120.5 788.4 L121.3 788.6 L122 790.3 L122.8 788.9 L123.5 789.3 L124.3 789.4 L125 786.5 L125.8 787.2 L126.5 785.6 L127.3 787.5 L128.1 786 L128.8 785.3 L129.6 788 L130.3 784.6 L131.1 785.6 L131.8 785.1 L132.6 783 L133.3 783.7 L134.1 784.4 L134.8 782.6 L135.6 782.5 L136.3 783.9 L137.1 782.7 L137.8 780.9 L138.6 780.3 L139.3 780.3 L140.1 780.1 L140.8 780.1 L141.6 778.8 L142.3 777.7 L143.1 777.6 L143.8 778.9 L144.6 779.5 L145.3 778 L146.1 777.8 L146.8 775.2 L147.6 778.1 L148.3 775.9 L149.1 776.3 L149.8 777.2 L150.6 777 L151.3 777.3 L152.1 774.5 L152.8 774.7 L153.6 778 L154.3 777.5 L155.1 774.5 L155.8 775.2 L156.6 776 L157.3 775.1 L158.1 775.1 L158.8 778 L159.6 776.6 L160.3 775.8 L161.1 777 L161.8 775 L162.6 774.9 L163.3 774.8 L164.1 777.4 L164.8 774.6 L165.6 774.6 L166.3 777.5 L167.1 777.2 L167.8 776.1 L168.6 774.2 L169.3 776.9 L170.1 777 L170.8 774.9 L171.6 775.1 L172.3 777 L173.1 777.1 L173.8 777.4 L174.6 776.4 L175.3 774.9 L176.1 777.3 L176.8 777.1 L177.6 776.4 L178.3 776.2 L179.1 775.2 L179.8 774.8 L180.6 774.7 L181.3 775.3 L182.1 777.7 L182.8 777.2 L183.6 776.2 L184.3 776.2 L185.1 777.9 L185.8 778.1 L186.6 775.2 L187.3 775.5 L188 777 L188.6 850 L189.6 810 L190.5 795 L191.3 790 L192.1 777.7 L192.8 779.1 L193.6 779.7 L194.3 779.6 L195.1 779.4 L195.8 779.7 L196.6 778.3 L197.3 778.3 L198.1 779.5 L198.5 782 L199.8 760 L201.1 770 L203.4 797.4 L204.8 782 L205.5 780 L206.2 780.4 L207 783.5 L207.8 782.7 L208.5 781.4 L209.2 784.5 L210 782.3 L210.8 782 L211.5 782.8 L212.2 784.5 L213 784.9 L213.8 783.4 L214.5 783.5 L215.2 783.9 L216 784.7 L216.8 785.3 L217.5 784.1 L218.2 785.6 L219 787 L219.8 785.6 L220.5 787.6 L221.2 787.3 L222 785.9 L222.8 787.7 L223.5 786.2 L224.2 789.4 L225 790.1 L225.8 790.4 L226.5 788 L227.2 788.5 L228 788.9 L228.8 790.2 L229.5 791.2 L230.2 789.3 L231 790.6 L231.8 792 L232.5 792.3 L233.2 793.1 L234 792.1 L234.8 791.3 L235.5 792.6 L236.2 790.8 L237 789.9 L237.8 790.1 L238.5 789.4 L239.2 789.4 L240 788.4 L240.8 788.6 L241.5 788.5 L242.2 787.4 L243 787 L243.8 785.5 L244.5 787.7 L245.2 787.1 L246 786.3 L246.8 784.7 L247.5 785.3 L248.2 782.4 L249 782.3 L249.8 782.9 L250.5 781.3 L251.2 781 L252 782.7 L252.8 781.8 L253.5 782.6 L254.2 781.2 L255 782.5 L255.8 779.3 L256.5 781.5 L257.2 781.3 L258 779.5 L258.8 780.4 L259.5 777.9 L260.2 777.3 L261 779.4 L261.8 779.9 L262.5 777.7 L263.2 777.4 L264 776.7 L264.8 777 L265.5 776.6 L266.2 776.9 L267 777.8 L267.8 776.9 L268.5 776.5 L269.2 777.6 L270 775.4 L270.8 776.1 L271.5 778.6 L272.2 776 L273 776.9 L273.8 778.4 L274.5 778 L275.2 777.2 L276 776.3 L276.8 775.1 L277.5 774.4 L278.2 774.3 L279 774 L279.8 776.7 L280.5 776.3 L281.2 774.5 L282 776.6 L282.8 774.2 L283.5 774.6 L284.2 777.2 L285 777.9 L285.8 775.8 L286.5 776.6 L287.2 774.7 L288 776.6 L288.8 774.9 L289.5 777.1 L290.2 775.5 L291 775.6 L291.8 777.7 L292.5 776.8 L293.2 778 L294 778.1 L294.8 775.4 L295.5 776.4 L296.2 775.6 L297 776.1 L297.8 778.3 L298.5 776.1 L299.2 776.7 L300 775.9 L300.8 778.9 L301.5 778.6 L302.2 777.4 L303 778.3 L303.8 781 L304 778 L304.6 850 L305.3 803 L306.2 790 L307.2 781 L307.9 781.7 L308.7 778.5 L309.4 781.1 L310.2 778.4 L310.9 779.5 L311.7 777.9 L312.4 779.8 L313.2 779.1 L313.9 776.4 L314.7 778.5 L315.4 777 L316.2 776.5 L316.9 774.5 L317.7 775.3 L318.4 779.7 L319.2 777.6 L319.9 780.5 L320.7 780 L321.4 779.2 L322.2 781.4 L322.9 779.6 L323.7 782.8 L324.4 779.9 L325.2 781.3 L325.9 781.7 L326.7 782.7 L327.4 784.2 L328.2 782.9 L328.9 783.9 L329.7 782.9 L330.4 784.1 L331.2 783.3 L331.9 782.6 L332.7 784.4 L333.4 783.1 L334.2 782.4 L334.9 784.1 L335.7 785.5 L336.4 785.3 L337.2 783.5 L337.9 784.6 L338.7 785.7 L339.4 787 L340.2 785.5 L340.9 786.4 L341.7 785.8 L342.4 786 L343.2 785.8 L343.9 783.7 L344.7 786.3 L345.4 786.4 L346.2 786.1 L346.9 786.5 L347.7 784.1 L348.4 785.4 L349.2 785.3 L349.9 786.4 L350.7 785 L351.4 786.1 L352.2 785.6 L352.9 782.1 L353.7 784.1 L354.4 782.8 L355.2 783.4 L355.9 783.7 L356.7 781.7 L357.4 781.6 L358.2 783.4 L358.9 780.4 L359.7 781.8 L360.4 782 L361.2 781.3 L361.9 782 L362.7 780 L363.4 779.3 L364.2 779.1 L364.9 780.1 L365.7 781.2 L366.4 780.7 L367.2 779 L367.9 778.5 L368.7 777.9 L369.4 777.1 L370.2 778.5 L370.9 776.5 L371.7 777.5 L372.4 777.6 L373.2 775.7 L373.9 776.7 L374.7 779 L375.4 775.9 L376.2 778.6 L376.9 776.9 L377.7 777.5 L378.4 776.4 L379.2 776.4 L379.9 778.1 L380.7 777.2 L381.4 779.3 L382.2 777.5 L382.9 777.4 L383.7 776.8 L384.4 776.9 L385.2 777.7 L385.9 779.6 L386.7 779.9 L387.4 780.3 L388.2 777.9 L388.9 778.1 L389.7 780.3 L390.4 780" fill="none" stroke="#0a0a0a" stroke-width="1.1" stroke-linejoin="round" />
<line x1="71.6" y1="715.5" x2="71.6" y2="850" stroke="#111" stroke-width="1.3"/>
<line x1="188.2" y1="715.5" x2="188.2" y2="850" stroke="#111" stroke-width="1.3"/>
<line x1="304.2" y1="715.5" x2="304.2" y2="850" stroke="#111" stroke-width="1.3"/>
<text x="351.3" y="719.6" font-size="4.8" font-weight="bold" fill="#222" textLength="14.6" lengthAdjust="spacingAndGlyphs">200 (mV)</text>
<line x1="357.7" y1="719.9" x2="357.7" y2="727.5" stroke="#606878" stroke-width="0.8"/>
<line x1="357.7" y1="727.5" x2="366.5" y2="727.5" stroke="#606878" stroke-width="0.8"/>
<text x="358.3" y="736.7" font-size="4.8" font-weight="bold" fill="#222" textLength="9.8" lengthAdjust="spacingAndGlyphs">5 (ms)</text>
<text x="453" y="45.1" font-size="20.8" font-weight="bold" text-anchor="start" fill="#000" >B</text>
<line x1="499.3" y1="129.6" x2="499.3" y2="223.1" stroke="#000" stroke-width="1.9"/>
<line x1="499.3" y1="234.4" x2="499.3" y2="316.1" stroke="#000" stroke-width="1.9"/>
<line x1="494.6" y1="130.5" x2="499.3" y2="130.5" stroke="#000" stroke-width="1.8"/>
<line x1="494.6" y1="161" x2="499.3" y2="161" stroke="#000" stroke-width="1.8"/>
<line x1="494.6" y1="191.6" x2="499.3" y2="191.6" stroke="#000" stroke-width="1.8"/>
<line x1="494.6" y1="222.1" x2="503.9" y2="222.1" stroke="#000" stroke-width="1.8"/>
<line x1="494.6" y1="235.4" x2="503.9" y2="235.4" stroke="#000" stroke-width="1.8"/>
<line x1="494.6" y1="262" x2="499.3" y2="262" stroke="#000" stroke-width="1.8"/>
<line x1="494.6" y1="288.5" x2="499.3" y2="288.5" stroke="#000" stroke-width="1.8"/>
<line x1="494.6" y1="315.1" x2="499.3" y2="315.1" stroke="#000" stroke-width="1.8"/>
<text x="492.6" y="134.9" font-size="12.5" font-weight="bold" text-anchor="end" fill="#000" >5</text>
<text x="492.6" y="165.4" font-size="12.5" font-weight="bold" text-anchor="end" fill="#000" >4</text>
<text x="492.6" y="196" font-size="12.5" font-weight="bold" text-anchor="end" fill="#000" >3</text>
<text x="492.6" y="226.5" font-size="12.5" font-weight="bold" text-anchor="end" fill="#000" >2</text>
<text x="492.6" y="239.8" font-size="12.5" font-weight="bold" text-anchor="end" fill="#000" >1.5</text>
<text x="492.6" y="266.4" font-size="12.5" font-weight="bold" text-anchor="end" fill="#000" >1.0</text>
<text x="492.6" y="292.9" font-size="12.5" font-weight="bold" text-anchor="end" fill="#000" >0.5</text>
<text x="492.6" y="319.5" font-size="12.5" font-weight="bold" text-anchor="end" fill="#000" >0.0</text>
<line x1="498.4" y1="315.1" x2="683.5" y2="315.1" stroke="#000" stroke-width="1.9"/>
<line x1="522.2" y1="315.1" x2="522.2" y2="319.8" stroke="#000" stroke-width="1.8"/>
<line x1="568.1" y1="315.1" x2="568.1" y2="319.8" stroke="#000" stroke-width="1.8"/>
<line x1="614" y1="315.1" x2="614" y2="319.8" stroke="#000" stroke-width="1.8"/>
<line x1="659.8" y1="315.1" x2="659.8" y2="319.8" stroke="#000" stroke-width="1.8"/>
<line x1="522.3" y1="167" x2="522.3" y2="182.2" stroke="#000" stroke-width="2.2"/>
<path d="M507.1 222.6 L507.1 182.2 L537.6 182.2 L537.6 222.6" fill="#fff" stroke="#000" stroke-width="2.35"/>
<line x1="507.1" y1="235.4" x2="507.1" y2="315.1" stroke="#000" stroke-width="2.35"/>
<line x1="537.6" y1="235.4" x2="537.6" y2="315.1" stroke="#000" stroke-width="2.35"/>
<circle cx="522.3" cy="158.4" r="2.85" fill="#000"/>
<circle cx="517" cy="164.5" r="2.85" fill="#000"/>
<circle cx="527.6" cy="164.5" r="2.85" fill="#000"/>
<circle cx="522.3" cy="167.2" r="2.85" fill="#000"/>
<circle cx="514.4" cy="170.7" r="2.85" fill="#000"/>
<circle cx="530.2" cy="170.7" r="2.85" fill="#000"/>
<circle cx="519.6" cy="173.3" r="2.85" fill="#000"/>
<circle cx="524.9" cy="173.3" r="2.85" fill="#000"/>
<circle cx="522.3" cy="177" r="2.85" fill="#000"/>
<circle cx="522.3" cy="179.5" r="2.85" fill="#000"/>
<circle cx="514.4" cy="194.9" r="2.85" fill="#000"/>
<circle cx="530.2" cy="194.9" r="2.85" fill="#000"/>
<circle cx="519.6" cy="197.5" r="2.85" fill="#000"/>
<circle cx="524.9" cy="197.5" r="2.85" fill="#000"/>
<circle cx="516.6" cy="201.1" r="2.85" fill="#000"/>
<circle cx="527.6" cy="201.1" r="2.85" fill="#000"/>
<circle cx="522.3" cy="204.1" r="2.85" fill="#000"/>
<rect x="553.2" y="312.8" width="29.9" height="3.6" fill="#000"/>
<line x1="613.9" y1="300.2" x2="613.9" y2="304.8" stroke="#000" stroke-width="2.2"/>
<line x1="607.3" y1="300.2" x2="620.4" y2="300.2" stroke="#000" stroke-width="2.2"/>
<path d="M598.5 315.1 L598.5 304.8 L630 304.8 L630 315.1" fill="#fff" stroke="#000" stroke-width="2.35"/>
<polygon points="619.2,295.2 622.9,301.8 615.6,301.8" fill="#000"/>
<polygon points="609.6,298.6 613.2,305.1 606,305.1" fill="#000"/>
<polygon points="616.5,304.6 620.1,311.1 612.9,311.1" fill="#000"/>
<polygon points="611.1,308.1 614.8,314.6 607.5,314.6" fill="#000"/>
<line x1="659.8" y1="240.4" x2="659.8" y2="263.6" stroke="#000" stroke-width="2.2"/>
<line x1="652.8" y1="240.4" x2="667.4" y2="240.4" stroke="#000" stroke-width="2.3"/>
<path d="M644.7 315.1 L644.7 263.6 L675.8 263.6 L675.8 315.1" fill="#fff" stroke="#000" stroke-width="2.35"/>
<polygon points="659.8,242.4 663.4,235.9 656.1,235.9" fill="#000"/>
<polygon points="657.3,253.8 660.9,247.3 653.6,247.3" fill="#000"/>
<polygon points="662.3,253.8 665.9,247.3 658.6,247.3" fill="#000"/>
<polygon points="657.3,268.4 660.9,261.9 653.6,261.9" fill="#000"/>
<polygon points="662.3,272.6 665.9,266.1 658.6,266.1" fill="#000"/>
<polygon points="654.8,278.6 658.4,272.1 651.1,272.1" fill="#000"/>
<polygon points="659.8,283.6 663.4,277.1 656.1,277.1" fill="#000"/>
<polygon points="664.8,283.6 668.4,277.1 661.1,277.1" fill="#000"/>
<polygon points="659.8,288.6 663.4,282.1 656.1,282.1" fill="#000"/>
<polygon points="659.8,300.2 663.4,293.8 656.1,293.8" fill="#000"/>
<line x1="522.9" y1="135.5" x2="638.5" y2="135.5" stroke="#222" stroke-width="1.1"/>
<polygon points="573.1,126.3 573.8,128 575.5,128 574.1,129.1 574.6,130.8 573.1,129.9 571.7,130.8 572.2,129.1 570.8,128 572.5,128" fill="#222"/>
<polygon points="578.4,126.3 579,128 580.8,128 579.4,129.1 579.9,130.8 578.4,129.9 576.9,130.8 577.4,129.1 576,128 577.8,128" fill="#222"/>
<polygon points="583.6,126.3 584.3,128 586,128 584.6,129.1 585.1,130.8 583.6,129.9 582.2,130.8 582.7,129.1 581.3,128 583,128" fill="#222"/>
<line x1="523.4" y1="152.5" x2="564.7" y2="152.5" stroke="#222" stroke-width="1.1"/>
<polygon points="538.1,143.7 538.8,145.4 540.5,145.4 539.1,146.5 539.6,148.2 538.1,147.2 536.7,148.2 537.2,146.5 535.8,145.4 537.5,145.4" fill="#222"/>
<polygon points="543.4,143.7 544,145.4 545.8,145.4 544.4,146.5 544.9,148.2 543.4,147.2 541.9,148.2 542.4,146.5 541,145.4 542.8,145.4" fill="#222"/>
<polygon points="548.6,143.7 549.3,145.4 551,145.4 549.6,146.5 550.1,148.2 548.6,147.2 547.2,148.2 547.7,146.5 546.3,145.4 548,145.4" fill="#222"/>
<line x1="568.1" y1="287.5" x2="605.8" y2="287.5" stroke="#222" stroke-width="1.1"/>
<polygon points="586,278.8 586.6,280.5 588.4,280.5 587,281.6 587.5,283.3 586,282.4 584.5,283.3 585,281.6 583.6,280.5 585.4,280.5" fill="#222"/>
<line x1="594" y1="232.5" x2="651.4" y2="232.5" stroke="#222" stroke-width="1.1"/>
<polygon points="619.4,224.8 620,226.5 621.8,226.5 620.4,227.6 620.8,229.3 619.4,228.4 617.9,229.3 618.4,227.6 617,226.5 618.8,226.5" fill="#222"/>
<polygon points="624.6,224.8 625.2,226.5 627,226.5 625.6,227.6 626.1,229.3 624.6,228.4 623.2,229.3 623.6,227.6 622.2,226.5 624,226.5" fill="#222"/>
<text transform="translate(461.4,222.9) rotate(-90)" font-size="14" font-weight="bold" text-anchor="middle">Amplitude (V)</text>
<text transform="translate(524.7,328.7) rotate(-45)" font-size="13" font-weight="bold" text-anchor="end">Intact</text>
<text transform="translate(570.6,328.7) rotate(-45)" font-size="13" font-weight="bold" text-anchor="end">SCI</text>
<text transform="translate(613.9,332.4) rotate(-45)" font-size="13" font-weight="bold" text-anchor="end">Mock</text>
<text transform="translate(663,329.2) rotate(-45)" font-size="13" font-weight="bold" text-anchor="end">Zfp</text>
<line x1="593.9" y1="360.7" x2="667" y2="360.7" stroke="#000" stroke-width="1.9"/>
<text x="633" y="381.7" font-size="15.3" font-weight="bold" text-anchor="middle" fill="#000" >6 WPT</text>
<text x="452.6" y="435.6" font-size="20.8" font-weight="bold" text-anchor="start" fill="#000" >C</text>
<line x1="496.4" y1="503.4" x2="496.4" y2="591.1" stroke="#000" stroke-width="1.9"/>
<line x1="496.4" y1="603.5" x2="496.4" y2="691.1" stroke="#000" stroke-width="1.9"/>
<line x1="491.2" y1="504.2" x2="496.4" y2="504.2" stroke="#000" stroke-width="1.8"/>
<line x1="491.2" y1="532.8" x2="496.4" y2="532.8" stroke="#000" stroke-width="1.8"/>
<line x1="491.2" y1="561.5" x2="496.4" y2="561.5" stroke="#000" stroke-width="1.8"/>
<line x1="491.2" y1="590.2" x2="501.3" y2="590.2" stroke="#000" stroke-width="1.8"/>
<line x1="491.2" y1="604.1" x2="501.3" y2="604.1" stroke="#000" stroke-width="1.8"/>
<line x1="491.2" y1="613.7" x2="496.4" y2="613.7" stroke="#000" stroke-width="1.8"/>
<line x1="491.2" y1="632.8" x2="496.4" y2="632.8" stroke="#000" stroke-width="1.8"/>
<line x1="491.2" y1="651.9" x2="496.4" y2="651.9" stroke="#000" stroke-width="1.8"/>
<line x1="491.2" y1="671.1" x2="496.4" y2="671.1" stroke="#000" stroke-width="1.8"/>
<line x1="491.2" y1="690.2" x2="496.4" y2="690.2" stroke="#000" stroke-width="1.8"/>
<text x="489" y="508.6" font-size="12.5" font-weight="bold" text-anchor="end" fill="#000" >25</text>
<text x="489" y="537.2" font-size="12.5" font-weight="bold" text-anchor="end" fill="#000" >20</text>
<text x="489" y="565.9" font-size="12.5" font-weight="bold" text-anchor="end" fill="#000" >15</text>
<text x="489" y="594.6" font-size="12.5" font-weight="bold" text-anchor="end" fill="#000" >10</text>
<text x="489" y="618.1" font-size="12.5" font-weight="bold" text-anchor="end" fill="#000" >4</text>
<text x="489" y="637.2" font-size="12.5" font-weight="bold" text-anchor="end" fill="#000" >3</text>
<text x="489" y="656.3" font-size="12.5" font-weight="bold" text-anchor="end" fill="#000" >2</text>
<text x="489" y="675.5" font-size="12.5" font-weight="bold" text-anchor="end" fill="#000" >1</text>
<text x="489" y="694.6" font-size="12.5" font-weight="bold" text-anchor="end" fill="#000" >0</text>
<line x1="495.5" y1="690.2" x2="683.2" y2="690.2" stroke="#000" stroke-width="1.9"/>
<line x1="519.9" y1="690.2" x2="519.9" y2="694.8" stroke="#000" stroke-width="1.8"/>
<line x1="565.5" y1="690.2" x2="565.5" y2="694.8" stroke="#000" stroke-width="1.8"/>
<line x1="612.5" y1="690.2" x2="612.5" y2="694.8" stroke="#000" stroke-width="1.8"/>
<line x1="658.9" y1="690.2" x2="658.9" y2="694.8" stroke="#000" stroke-width="1.8"/>
<path d="M504.3 690.2 L504.3 667.5 L535.2 667.5 L535.2 690.2" fill="#fff" stroke="#000" stroke-width="2.35"/>
<line x1="519.9" y1="661.9" x2="519.9" y2="667.5" stroke="#000" stroke-width="2.2"/>
<line x1="512.2" y1="661.9" x2="527.5" y2="661.9" stroke="#000" stroke-width="2.4"/>
<circle cx="516.9" cy="655.7" r="2.85" fill="#000"/>
<circle cx="522.6" cy="656.9" r="2.85" fill="#000"/>
<circle cx="506.3" cy="663.7" r="2.85" fill="#000"/>
<circle cx="533" cy="664.5" r="2.85" fill="#000"/>
<circle cx="508.9" cy="667" r="2.85" fill="#000"/>
<circle cx="513.2" cy="666.3" r="2.85" fill="#000"/>
<circle cx="519" cy="666.3" r="2.85" fill="#000"/>
<circle cx="524.2" cy="665.5" r="2.85" fill="#000"/>
<circle cx="528.6" cy="667" r="2.85" fill="#000"/>
<circle cx="507.4" cy="669.2" r="2.85" fill="#000"/>
<circle cx="510.3" cy="673.6" r="2.85" fill="#000"/>
<circle cx="514" cy="675.8" r="2.85" fill="#000"/>
<circle cx="519.1" cy="678" r="2.85" fill="#000"/>
<circle cx="524.2" cy="675.8" r="2.85" fill="#000"/>
<circle cx="527.8" cy="672.8" r="2.85" fill="#000"/>
<circle cx="533" cy="669.2" r="2.85" fill="#000"/>
<circle cx="521.3" cy="669.2" r="2.85" fill="#000"/>
<circle cx="516" cy="670.5" r="2.85" fill="#000"/>
<circle cx="512" cy="670.5" r="2.85" fill="#000"/>
<circle cx="530.5" cy="668" r="2.85" fill="#000"/>
<path d="M550.6 590.2 L550.6 533.6 L581.5 533.6 L581.5 590.2" fill="#fff" stroke="#000" stroke-width="2.35"/>
<line x1="550.6" y1="604.4" x2="550.6" y2="690.2" stroke="#000" stroke-width="2.35"/>
<line x1="581.5" y1="604.4" x2="581.5" y2="690.2" stroke="#000" stroke-width="2.35"/>
<rect x="550.6" y="529.9" width="30.9" height="6.2" fill="#000"/>
<path d="M597.4 690.2 L597.4 626.8 L628 626.8 L628 690.2" fill="#fff" stroke="#000" stroke-width="2.35"/>
<line x1="612.6" y1="613.7" x2="612.6" y2="626.8" stroke="#000" stroke-width="2.2"/>
<line x1="605" y1="613.7" x2="620.1" y2="613.7" stroke="#000" stroke-width="2.3"/>
<polygon points="612.5,603.6 616.1,610.1 608.9,610.1" fill="#000"/>
<polygon points="609.4,620.4 613,626.9 605.8,626.9" fill="#000"/>
<polygon points="615.6,621 619.2,627.5 612,627.5" fill="#000"/>
<polygon points="615.3,633.8 618.9,640.2 611.6,640.2" fill="#000"/>
<polygon points="610,638 613.6,644.5 606.4,644.5" fill="#000"/>
<path d="M643.7 690.2 L643.7 665.9 L674.5 665.9 L674.5 690.2" fill="#fff" stroke="#000" stroke-width="2.35"/>
<line x1="659.1" y1="657.6" x2="659.1" y2="665.9" stroke="#000" stroke-width="2.2"/>
<line x1="650.3" y1="657.6" x2="666.7" y2="657.6" stroke="#000" stroke-width="2.2"/>
<polygon points="659.1,652.5 662.8,646 655.5,646" fill="#000"/>
<polygon points="659.1,660.9 662.8,654.4 655.5,654.4" fill="#000"/>
<polygon points="654.2,664.4 657.9,657.9 650.6,657.9" fill="#000"/>
<polygon points="663.8,664.4 667.4,657.9 660.1,657.9" fill="#000"/>
<polygon points="659.1,666.8 662.8,660.2 655.5,660.2" fill="#000"/>
<polygon points="652.6,671.5 656.2,665 649,665" fill="#000"/>
<polygon points="665.6,671.5 669.2,665 662,665" fill="#000"/>
<polygon points="653.5,676.5 657.1,670 649.9,670" fill="#000"/>
<polygon points="664.6,676.5 668.2,670 661,670" fill="#000"/>
<polygon points="659.1,680.4 662.8,673.9 655.5,673.9" fill="#000"/>
<polygon points="659.1,673.8 662.8,667.2 655.5,667.2" fill="#000"/>
<line x1="508.7" y1="488.5" x2="668.2" y2="488.5" stroke="#222" stroke-width="1.1"/>
<polygon points="583.9,479.7 584.5,481.4 586.3,481.4 584.9,482.5 585.4,484.2 583.9,483.2 582.4,484.2 582.9,482.5 581.5,481.4 583.3,481.4" fill="#222"/>
<line x1="508.7" y1="504.5" x2="614.4" y2="504.5" stroke="#222" stroke-width="1.1"/>
<polygon points="554.8,495 555.4,496.7 557.1,496.7 555.7,497.8 556.2,499.5 554.8,498.6 553.3,499.5 553.8,497.8 552.4,496.7 554.1,496.7" fill="#222"/>
<polygon points="560,495 560.6,496.7 562.4,496.7 561,497.8 561.5,499.5 560,498.6 558.5,499.5 559,497.8 557.6,496.7 559.4,496.7" fill="#222"/>
<polygon points="565.2,495 565.9,496.7 567.6,496.7 566.2,497.8 566.7,499.5 565.2,498.6 563.8,499.5 564.3,497.8 562.9,496.7 564.6,496.7" fill="#222"/>
<line x1="508" y1="522.5" x2="559.6" y2="522.5" stroke="#222" stroke-width="1.1"/>
<polygon points="526.8,514 527.4,515.7 529.1,515.7 527.7,516.8 528.2,518.5 526.8,517.5 525.3,518.5 525.8,516.8 524.4,515.7 526.1,515.7" fill="#222"/>
<polygon points="532,514 532.6,515.7 534.4,515.7 533,516.8 533.5,518.5 532,517.5 530.5,518.5 531,516.8 529.6,515.7 531.4,515.7" fill="#222"/>
<polygon points="537.2,514 537.9,515.7 539.6,515.7 538.2,516.8 538.7,518.5 537.2,517.5 535.8,518.5 536.3,516.8 534.9,515.7 536.6,515.7" fill="#222"/>
<line x1="573.7" y1="523.5" x2="615.4" y2="523.5" stroke="#222" stroke-width="1.1"/>
<polygon points="589.8,514.5 590.4,516.2 592.1,516.2 590.7,517.3 591.2,519 589.8,518 588.3,519 588.8,517.3 587.4,516.2 589.1,516.2" fill="#222"/>
<polygon points="595,514.5 595.6,516.2 597.4,516.2 596,517.3 596.5,519 595,518 593.5,519 594,517.3 592.6,516.2 594.4,516.2" fill="#222"/>
<polygon points="600.2,514.5 600.9,516.2 602.6,516.2 601.2,517.3 601.7,519 600.2,518 598.8,519 599.3,517.3 597.9,516.2 599.6,516.2" fill="#222"/>
<line x1="611.4" y1="599.5" x2="662.8" y2="599.5" stroke="#222" stroke-width="1.1"/>
<polygon points="629.1,590.9 629.8,592.6 631.5,592.6 630.1,593.7 630.6,595.4 629.1,594.4 627.7,595.4 628.2,593.7 626.8,592.6 628.5,592.6" fill="#222"/>
<polygon points="634.4,590.9 635,592.6 636.8,592.6 635.4,593.7 635.9,595.4 634.4,594.4 632.9,595.4 633.4,593.7 632,592.6 633.8,592.6" fill="#222"/>
<polygon points="639.6,590.9 640.3,592.6 642,592.6 640.6,593.7 641.1,595.4 639.6,594.4 638.2,595.4 638.7,593.7 637.3,592.6 639,592.6" fill="#222"/>
<text transform="translate(461.5,597.3) rotate(-90)" font-size="15.2" font-weight="bold" text-anchor="middle">Latency (ms)</text>
<text transform="translate(520.9,707) rotate(-45)" font-size="13" font-weight="bold" text-anchor="end">Intact</text>
<text transform="translate(566.5,707) rotate(-45)" font-size="13" font-weight="bold" text-anchor="end">SCI</text>
<text transform="translate(611.3,709.4) rotate(-45)" font-size="13" font-weight="bold" text-anchor="end">Mock</text>
<text transform="translate(662,705.3) rotate(-45)" font-size="14" font-weight="bold" text-anchor="end">Zfp</text>
<line x1="594.8" y1="736.8" x2="667.9" y2="736.8" stroke="#000" stroke-width="1.9"/>
<text x="633.5" y="758.4" font-size="15.3" font-weight="bold" text-anchor="middle" fill="#000" >6 WPT</text>
</svg></body></html>
